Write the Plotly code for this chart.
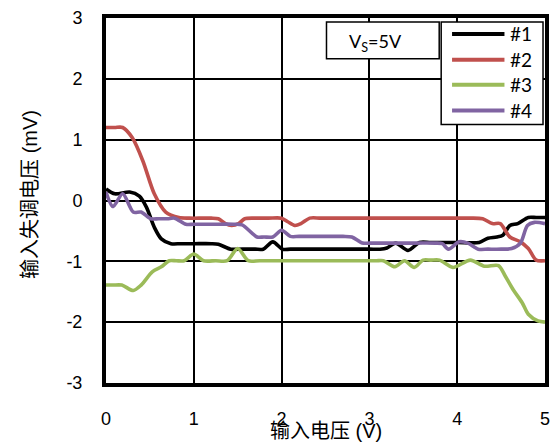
import plotly.graph_objects as go

# ---------------- data ----------------
names = ["#1", "#2", "#3", "#4"]
colors = ["#000000", "#C0504D", "#9BBB59", "#8064A2"]

x1 = [0, 0.1, 0.27, 0.38, 0.46, 0.55, 0.63, 0.74, 0.85, 1.0, 1.2, 1.28, 1.42, 1.55, 1.7, 1.79, 1.9, 2.01,
      2.1, 2.5, 3.0, 3.12, 3.2, 3.3, 3.44, 3.57, 3.7, 4.0, 4.25, 4.35, 4.45, 4.52, 4.6, 4.69, 4.81, 4.9, 5.0]
y1 = [0.19, 0.11, 0.14, 0.07, -0.11, -0.44, -0.63, -0.71, -0.71, -0.71, -0.71, -0.72, -0.8, -0.8, -0.8, -0.8, -0.68, -0.8,
      -0.8, -0.8, -0.8, -0.8, -0.78, -0.7, -0.82, -0.69, -0.69, -0.69, -0.69, -0.62, -0.6, -0.57, -0.41, -0.38, -0.28, -0.28, -0.28]

x2 = [0, 0.1, 0.19, 0.3, 0.42, 0.55, 0.68, 0.83, 0.95, 1.1, 1.2, 1.28, 1.36, 1.43, 1.51, 1.58, 1.7, 1.85, 2.0,
      2.07, 2.15, 2.22, 2.32, 2.45, 3.0, 3.5, 4.0, 4.15, 4.29, 4.4, 4.49, 4.6, 4.72, 4.81, 4.9, 5.0]
y2 = [1.2, 1.2, 1.2, 1.03, 0.65, 0.11, -0.19, -0.28, -0.29, -0.29, -0.29, -0.3, -0.38, -0.41, -0.38, -0.3, -0.29, -0.29, -0.29,
      -0.35, -0.41, -0.38, -0.29, -0.29, -0.29, -0.29, -0.29, -0.29, -0.3, -0.38, -0.38, -0.6, -0.68, -0.79, -0.98, -0.99]

x3 = [0, 0.08, 0.18, 0.31, 0.4, 0.53, 0.63, 0.72, 0.8, 0.89, 1.0, 1.11, 1.25, 1.38, 1.5, 1.62, 1.75, 2.0, 2.5,
      3.0, 3.08, 3.16, 3.29, 3.4, 3.51, 3.61, 3.7, 3.8, 3.95, 4.15, 4.31, 4.47, 4.55, 4.64, 4.74, 4.81, 4.92, 5.0]
y3 = [-1.39, -1.39, -1.39, -1.48, -1.39, -1.17, -1.09, -0.99, -0.99, -0.99, -0.88, -0.99, -0.99, -0.99, -0.79, -0.99, -0.99, -0.99, -0.99,
      -0.99, -0.99, -0.99, -1.09, -0.99, -1.1, -0.98, -0.98, -0.98, -1.1, -0.98, -1.08, -1.07, -1.25, -1.47, -1.68, -1.87, -1.98, -2.0]

x4 = [0, 0.08, 0.19, 0.31, 0.4, 0.51, 0.6, 0.7, 0.78, 0.91, 1.0, 1.2, 1.45, 1.55, 1.72, 1.8, 1.9, 2.0, 2.1,
      2.2, 2.5, 2.7, 2.8, 2.92, 3.0, 3.5, 3.75, 3.83, 3.9, 4.02, 4.12, 4.24, 4.35, 4.5, 4.62, 4.72, 4.8, 4.88, 5.0]
y4 = [0.14, -0.1, 0.11, -0.19, -0.19, -0.3, -0.3, -0.3, -0.29, -0.39, -0.39, -0.39, -0.39, -0.4, -0.6, -0.6, -0.6, -0.49, -0.59,
      -0.59, -0.59, -0.59, -0.6, -0.7, -0.7, -0.7, -0.7, -0.71, -0.8, -0.68, -0.7, -0.8, -0.8, -0.8, -0.79, -0.7, -0.41, -0.36, -0.38]

series_x = [x1, x2, x3, x4]
series_y = [y1, y2, y3, y4]

x_ticks = [0, 1, 2, 3, 4, 5]
x_ticktext = ["0", "1", "2", "3", "4", "5"]
y_ticks = [-3, -2, -1, 0, 1, 2, 3]
y_ticktext = ["-3", "-2", "-1", "0", "1", "2", "3"]

x_title = "输入电压 (V)"
y_title = "输入失调电压 (mV)"
note_text = "V<sub>S</sub>=5V"

# ---------------- figure ----------------
# body margin is removed in the page, so figure pixels = screen pixels
W, H = 558, 442
L, R, T, B = 106, 8, 16, 59
pw, ph = W - L - R, H - T - B

def px(xp):
    return (xp - L) / pw

def py(yp):
    return (H - B - yp) / ph

tick_font = dict(family="Liberation Sans, Arial, Noto Sans CJK SC", size=18, color="#000000")
title_font = dict(family="Liberation Sans, Arial, Noto Sans CJK SC", size=20, color="#000000")
lato = dict(family="Lato, Noto Sans CJK SC", size=19, color="#000000")

fig = go.Figure()
for xs, ys, n, c in zip(series_x, series_y, names, colors):
    fig.add_trace(go.Scatter(x=xs, y=ys, name=n, mode="lines",
                             line=dict(color=c, width=3.6, shape="spline", smoothing=0.8),
                             showlegend=False, hoverinfo="skip"))

shapes = []
annotations = []

# note box
shapes.append(dict(type="rect", xref="paper", yref="paper", x0=px(329), x1=px(443), y0=py(57), y1=py(20),
                   line=dict(color="#000000", width=1.5), fillcolor="#FFFFFF", layer="above"))
annotations.append(dict(text=note_text, xref="paper", yref="paper", x=px(379), y=py(41), xanchor="center",
                        yanchor="middle", showarrow=False, font=dict(family="Lato", size=18, color="#000000")))

# legend box
shapes.append(dict(type="rect", xref="paper", yref="paper", x0=px(445), x1=px(548), y0=py(123), y1=py(20),
                   line=dict(color="#000000", width=1.5), fillcolor="#FFFFFF", layer="above"))
row_y = [32, 58, 83, 109]
for ry, n, c in zip(row_y, names, colors):
    shapes.append(dict(type="line", xref="paper", yref="paper", x0=px(456), x1=px(509), y0=py(ry), y1=py(ry),
                       line=dict(color=c, width=4), layer="above"))
    annotations.append(dict(text=n, xref="paper", yref="paper", x=px(513), y=py(ry), xanchor="left",
                            yanchor="middle", showarrow=False, font=lato))

# axis titles
annotations.append(dict(text=x_title, xref="paper", yref="paper", x=0.5, y=py(431), xanchor="center",
                        yanchor="middle", showarrow=False, font=title_font))
annotations.append(dict(text=y_title, xref="paper", yref="paper", x=px(29), y=py(193), xanchor="center",
                        yanchor="middle", showarrow=False, textangle=-90, font=title_font))

fig.update_layout(
    width=W, height=H,
    margin=dict(l=L, r=R, t=T, b=B, pad=0),
    paper_bgcolor="#FFFFFF", plot_bgcolor="#FFFFFF",
    shapes=shapes, annotations=annotations,
    showlegend=False,
)
fig.update_xaxes(range=[0, 5], tickvals=x_ticks, ticktext=x_ticktext, tickfont=tick_font,
                 showgrid=True, gridcolor="#000000", gridwidth=2, zeroline=False,
                 showline=True, linecolor="#000000", linewidth=4, mirror=True,
                 ticks="", ticklabelstandoff=16)
fig.update_yaxes(range=[-3, 3], tickvals=y_ticks, ticktext=y_ticktext, tickfont=tick_font,
                 showgrid=True, gridcolor="#000000", gridwidth=2, zeroline=False,
                 showline=True, linecolor="#000000", linewidth=4, mirror=True,
                 ticks="", ticklabelstandoff=16)

fig.write_html("out.html", config={"displayModeBar": False},
               post_script="document.body.style.margin='0';document.body.style.overflow='hidden';")
